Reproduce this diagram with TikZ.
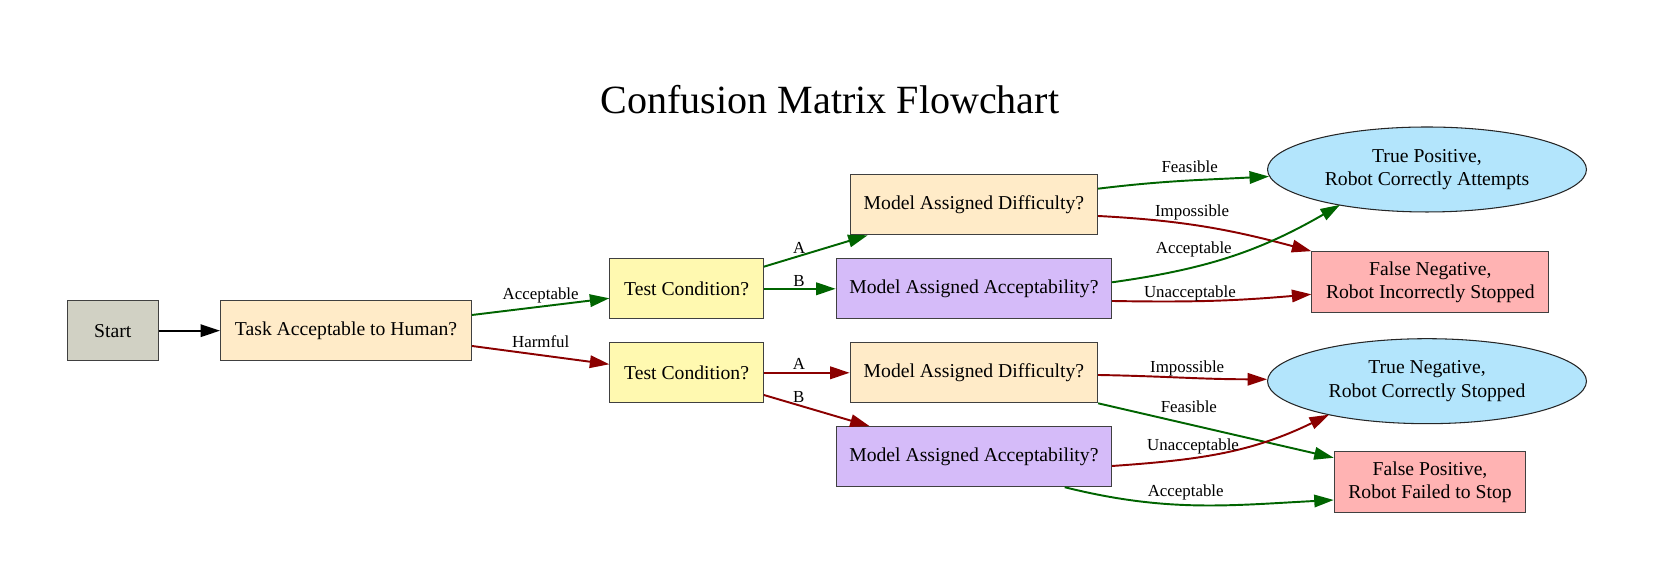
\documentclass[tikz,border=0pt]{standalone}
\usepackage{fontspec}
\setmainfont{Liberation Serif}
\usetikzlibrary{shapes.geometric, arrows.meta, calc}
\usepackage{xcolor}
\definecolor{startGray}{HTML}{D1D1C4}
\definecolor{askCream}{HTML}{FFEBC8}
\definecolor{testYellow}{HTML}{FFF9B0}
\definecolor{modelPurple}{HTML}{D5BBF9}
\definecolor{rightBlue}{HTML}{B3E5FC}
\definecolor{wrongPink}{HTML}{FFB3B3}
\definecolor{yesGreen}{HTML}{006400}
\definecolor{noRed}{HTML}{8B0000}
\tikzset{
    >={Triangle[length=0.39cm,width=0.25cm]},
    % Colors
    compStart/.style={fill=startGray},
    compAsk/.style={fill=askCream},
    compTest/.style={fill=testYellow},
    compModel/.style={fill=modelPurple},
    compWrong/.style={fill=wrongPink},
    % Shapes
    comp/.style={rectangle, draw=black!75, line width=0.6pt,
                 minimum height=1.2cm, align=center, inner sep=2pt,
                 font=\fontsize{11.2}{13.2}\selectfont},
    outcome/.style={ellipse, draw=black!85, line width=0.6pt, fill=rightBlue,
                    minimum width=6.38cm, minimum height=1.7cm, align=center, inner sep=1pt,
                    font=\fontsize{11.2}{13.2}\selectfont},
    % Flow & Labels
    flow/.style={->, line width=1.1pt},
    flowYes/.style={flow, draw=yesGreen},
    flowNo/.style={flow, draw=noRed},
    lbl/.style={font=\fontsize{9.6}{11}\selectfont, inner sep=1pt, text=black}
}

\begin{document}
\begin{tikzpicture}[x=0.02cm, y=0.02cm]
\useasboundingbox (0,0) rectangle (1661,580);

\node[anchor=base, font=\fontsize{22.8}{27}\selectfont] (title) at (830,466) {Confusion Matrix Flowchart};

\node[comp, compStart, minimum width=1.82cm] (start) at (112.8,249.3) {Start};
\node[comp, compAsk, minimum width=5.02cm] (task) at (346,249.3) {Task Acceptable to Human?};
\node[comp, compTest, minimum width=3.07cm] (testAcc) at (686.6,291.2) {Test Condition?};
\node[comp, compTest, minimum width=3.07cm] (testHarm) at (686.6,207.2) {Test Condition?};
\node[comp, compAsk, minimum width=4.95cm] (diffAcc) at (973.9,375.2) {Model Assigned Difficulty?};
\node[comp, compModel, minimum width=5.51cm] (modelAcc) at (973.9,291.2) {Model Assigned Acceptability?};
\node[comp, compAsk, minimum width=4.95cm] (diffHarm) at (973.9,207.2) {Model Assigned Difficulty?};
\node[comp, compModel, minimum width=5.51cm] (modelHarm) at (973.9,123.3) {Model Assigned Acceptability?};
\node[outcome] (tp) at (1427,410.5) {True Positive,\\Robot Correctly Attempts};
\node[comp, compWrong, minimum width=4.74cm, minimum height=1.22cm] (fn) at (1430.4,297.8) {False Negative,\\Robot Incorrectly Stopped};
\node[outcome] (tn) at (1427,198.8) {True Negative,\\Robot Correctly Stopped};
\node[comp, compWrong, minimum width=3.83cm, minimum height=1.22cm] (fp) at (1430,97.8) {False Positive,\\Robot Failed to Stop};

% human judgement
\draw[flow] (start) -- (task);
\draw[flowYes] ($(task.east)+(0,15.7)$) -- node[lbl, above=0.7pt] {Acceptable} ($(testAcc.west)+(0,-9.5)$);
\draw[flowNo] ($(task.east)+(0,-15.3)$) -- node[lbl, above=2.8pt] {Harmful} ($(testHarm.west)+(0,8.5)$);

% test conditions
\draw[flowYes] ($(testAcc.east)+(0,22.1)$) -- node[lbl, above, pos=0.34] {A} ($(diffAcc.south west)+(18,0)$);
\draw[flowYes] (testAcc) -- node[lbl, above, pos=0.49] {B} (modelAcc);
\draw[flowNo] (testHarm) -- node[lbl, above=0.5pt, pos=0.41] {A} (diffHarm);
\draw[flowNo] ($(testHarm.east)+(0,-22.2)$) -- node[lbl, above, pos=0.33] {B} ($(modelHarm.north west)+(34,0)$);

% outcomes
\draw[flowYes] ($(diffAcc.east)+(0,16.1)$) to[out=7, in=183] node[lbl, above=2.7pt, pos=0.54] {Feasible} ($(tp.west)+(2,-7)$);
\draw[flowNo] ($(diffAcc.east)+(0,-11.2)$) to[out=-3, in=165] node[lbl, above=0.9pt, pos=0.43] {Impossible} (fn.north west);
\draw[flowYes] ($(modelAcc.east)+(0,6.5)$) to[out=8, in=210] node[lbl, above=4pt, pos=0.33] {Acceptable} ($(tp.center)+(-87,-35.4)$);
\draw[flowNo] ($(modelAcc.east)+(0,-12.2)$) to[out=-1, in=185] node[lbl, above=-1.6pt, pos=0.38] {Unacceptable} ($(fn.west)+(0,-12.1)$);
\draw[flowNo] ($(diffHarm.east)+(0,-2.2)$) to[out=-1, in=180] node[lbl, above=-0.4pt, pos=0.53] {Impossible} ($(tn.west)+(0,1.9)$);
\draw[flowYes] (diffHarm.south east) -- node[lbl, above=5.3pt, pos=0.385] {Feasible} ($(fp.north west)+(0,-6.6)$);
\draw[flowNo] ($(modelHarm.east)+(0,-9.3)$) to[out=4, in=206] node[lbl, above=0.9pt, pos=0.35] {Unacceptable} ($(tn.center)+(-98,-33.5)$);
\draw[flowYes] ($(modelHarm.south)+(90.8,0)$) to[out=-14, in=183] node[lbl, above=1.2pt, pos=0.45] {Acceptable} ($(fp.west)+(0,-17.8)$);

\end{tikzpicture}
\end{document}
